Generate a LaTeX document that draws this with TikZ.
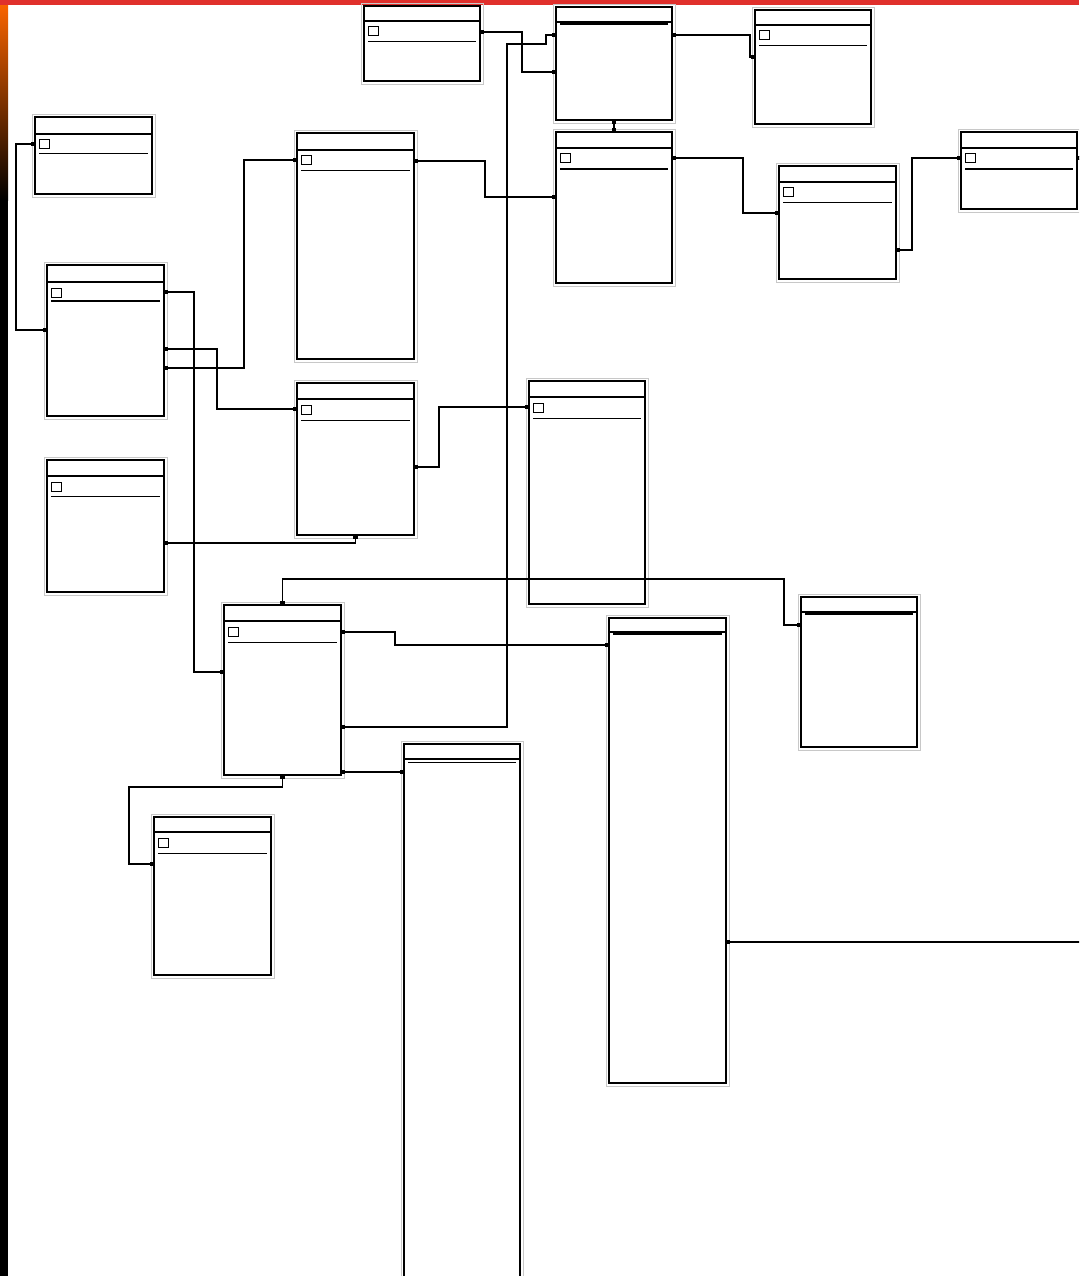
\documentclass[tikz,border=0pt]{standalone}
\usepackage{tikz}
\usetikzlibrary{arrows.meta,calc}
\definecolor{Frame}{HTML}{C8C8C8}
\definecolor{BarRed}{HTML}{E0302C}

\begin{document}
\begin{tikzpicture}[
  x=1pt, y=-1pt,
  tbl/.style={draw, line width=1.4pt, fill=white, anchor=north west,
              inner sep=0pt, outer sep=0pt},
  frame/.style={draw=Frame, line width=0.9pt},
  rule/.style={line width=1.1pt},
  keybox/.style={draw, line width=1pt},
  link/.style={line width=1.3pt,
               {Square[length=4pt,width=4.5pt]}-{Square[length=4pt,width=4.5pt]}}
]
  \clip (0,0) rectangle (1079,1276);
  \fill[white] (0,0) rectangle (1079,1276);

  % screen edges
  \fill[black] (0,0) rectangle (8,1276);
  \shade[top color=orange!80!red, bottom color=black] (0,0) rectangle (8,200);
  \fill[BarRed] (0,0) rectangle (1079,5);

  % tables: name/x/y/width/height/header/key/separator/separator width
  \foreach \n/\x/\y/\w/\h/\hd/\k/\s/\t in {
      tA/364/6/116/75/15/1/36/1,
      tB/556/7/116/113/15/0/17/2.4,
      tC/755/10/116/114/15/1/36/1,
      tD/35/117/117/77/17/1/37/1,
      tE/297/133/117/226/17/1/38/1,
      tF/556/132/116/151/16/1/37/2.4,
      tG/779/166/117/113/16/1/36/1,
      tH/961/132/116/77/16/1/37/2.4,
      tI/47/265/117/151/17/1/36/2.4,
      tJ/297/383/117/152/16/1/37/1,
      tK/529/381/116/223/16/1/37/1,
      tL/47/460/117/132/16/1/36/1,
      tM/224/605/117/170/16/1/37/1,
      tN/609/618/117/465/14/0/16/2.4,
      tO/801/597/116/150/15/0/17/1.8,
      tP/404/744/116/560/15/0/18/1,
      tQ/154/817/117/158/15/1/36/1}
  {
    \draw[frame] (\x-3,\y-3) rectangle (\x+\w+3,\y+\h+3);
    \node[tbl, minimum width=\w pt, minimum height=\h pt] (\n) at (\x,\y) {};
    \draw[rule] ($(\n.north west)+(0,\hd)$) -- ($(\n.north east)+(0,\hd)$);
    \ifnum\k=1
      \draw[keybox] ($(\n.north west)+(4,\hd+6)$) rectangle +(10,9);
    \fi
    \draw[line width=\t pt] ($(\n.north west)+(4,\s)$) -- ($(\n.north east)+(-4,\s)$);
  }

  \coordinate (edgeH) at (1085,158);
  \coordinate (edgeN) at (1085,942);

  % relations
  \draw[link] (tA.east |- 0,32) -| (522,52) |- (tB.west |- 0,72);
  \draw[link] (tM.east |- 0,727) -| (507,44) -| (546,40) |- (tB.west |- 0,35);
  \draw[link] (tB.south) -- (tF.north);
  \draw[link] (tB.east |- 0,35) -| (750,46) |- (tC.west |- 0,57);
  \draw[link] (tF.east |- 0,158) -| (743,185) |- (tG.west |- 0,213);
  \draw[link] (tG.east |- 0,250) -| (912,200) |- (tH.west |- 0,158);
  \draw[link] (tH.east |- 0,158) -- (edgeH);
  \draw[link] (tE.east |- 0,161) -| (485,180) |- (tF.west |- 0,197);
  \draw[link] (tD.west |- 0,144) -| (16,240) |- (tI.west |- 0,330);
  \draw[link] (tI.east |- 0,349) -| (217,380) |- (tJ.west |- 0,409);
  \draw[link] (tI.east |- 0,368) -| (244,260) |- (tE.west |- 0,160);
  \draw[link] (tI.east |- 0,292) -| (194,500) |- (tM.west |- 0,672);
  \draw[link] (tJ.east |- 0,467) -| (439,440) |- (tK.west |- 0,407);
  \draw[link] (tL.east |- 0,543) -| (tJ.south);
  \draw[link] (tM.north) |- (784,579) |- (tO.west |- 0,625);
  \draw[link] (tM.east |- 0,632) -| (395,640) |- (tN.west |- 0,645);
  \draw[link] (tM.east |- 0,772) -- (tP.west |- 0,772);
  \draw[link] (tM.south) |- (129,787) |- (tQ.west |- 0,864);
  \draw[link] (tN.east |- 0,942) -- (edgeN);
\end{tikzpicture}
\end{document}
